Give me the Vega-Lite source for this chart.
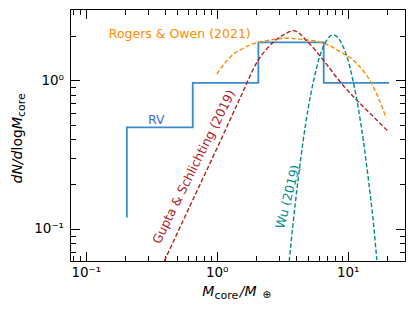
{
  "$schema": "https://vega.github.io/schema/vega-lite/v6.json",
  "width": 335,
  "height": 252,
  "autosize": {"type": "none"},
  "padding": {"left": 70, "top": 9, "right": 10, "bottom": 50},
  "background": "white",
  "config": {
    "font": "DejaVu Sans",
    "view": {"stroke": "black", "strokeWidth": 1},
    "axis": {
      "grid": false,
      "domain": false,
      "tickColor": "black",
      "tickWidth": 1,
      "labelColor": "black",
      "titleColor": "black",
      "labelFont": "DejaVu Sans",
      "titleFont": "DejaVu Sans",
      "titleFontWeight": "normal",
      "titleFontSize": 14,
      "labelFontSize": 13.5
    }
  },
  "resolve": {"axis": {"x": "independent", "y": "independent"}},
  "layer": [
    {
      "data": {"values": [
        {"mass": 0.206, "dn": 0.119},
        {"mass": 0.656, "dn": 0.482},
        {"mass": 2.08, "dn": 0.96},
        {"mass": 6.56, "dn": 1.80},
        {"mass": 20.7, "dn": 0.96}
      ]},
      "mark": {"type": "line", "interpolate": "step-before", "color": "#3c8cc8", "strokeWidth": 1.8, "clip": true},
      "encoding": {
        "x": {"field": "mass", "type": "quantitative",
          "scale": {"type": "log", "domain": [0.0758, 27.4], "nice": false},
          "axis": {"orient": "bottom", "values": [0.1, 1, 10], "tickSize": -9.5, "labelPadding": 13.5,
            "labelExpr": "datum.value < 0.5 ? '10⁻¹' : datum.value < 5 ? '10⁰' : '10¹'",
            "title": "M", "titleFontStyle": "italic", "titleX": 131.7, "titleY": 34, "titleAlign": "left", "titleBaseline": "alphabetic", "titleAngle": 0}},
        "y": {"field": "dn", "type": "quantitative",
          "scale": {"type": "log", "domain": [0.0606, 3.02], "nice": false},
          "axis": {"orient": "left", "values": [0.1, 1], "tickSize": -9.5, "labelPadding": 16,
            "labelExpr": "datum.value < 0.5 ? '10⁻¹' : '10⁰'",
            "title": "dN/d", "titleFontStyle": "italic", "titleX": -48.3, "titleY": 174, "titleAngle": 270, "titleAlign": "left", "titleBaseline": "alphabetic"}}
      }
    },
    {
      "data": {"values": [
        {"mass": 1.0, "dn": 1.10},
        {"mass": 1.15, "dn": 1.30},
        {"mass": 1.34, "dn": 1.50},
        {"mass": 1.51, "dn": 1.60},
        {"mass": 1.80, "dn": 1.73},
        {"mass": 2.02, "dn": 1.79},
        {"mass": 2.6, "dn": 1.87},
        {"mass": 3.3, "dn": 1.92},
        {"mass": 4.86, "dn": 1.87},
        {"mass": 6.5, "dn": 1.78},
        {"mass": 8.73, "dn": 1.56},
        {"mass": 11.7, "dn": 1.30},
        {"mass": 15.7, "dn": 0.905},
        {"mass": 19.7, "dn": 0.555}
      ]},
      "mark": {"type": "line", "interpolate": "monotone", "color": "#ff8c00", "strokeWidth": 1.4, "strokeDash": [4.5, 2.2], "clip": true},
      "encoding": {
        "x": {"field": "mass", "type": "quantitative",
          "scale": {"type": "log", "domain": [0.0758, 27.4], "nice": false},
          "axis": {"orient": "bottom", "values": [0.08, 0.09, 0.2, 0.3, 0.4, 0.5, 0.6, 0.7, 0.8, 0.9, 2, 3, 4, 5, 6, 7, 8, 9, 20], "tickSize": -5.5, "labels": false,
            "title": "core", "titleFontSize": 11, "titleX": 144, "titleY": 37, "titleAlign": "left", "titleBaseline": "alphabetic", "titleAngle": 0}},
        "y": {"field": "dn", "type": "quantitative",
          "scale": {"type": "log", "domain": [0.0606, 3.02], "nice": false},
          "axis": {"orient": "left", "values": [0.07, 0.08, 0.09, 0.2, 0.3, 0.4, 0.5, 0.6, 0.7, 0.8, 0.9, 2, 3], "tickSize": -5.5, "labels": false,
            "title": "log", "titleX": -48.3, "titleY": 141, "titleAngle": 270, "titleAlign": "left", "titleBaseline": "alphabetic"}}
      }
    },
    {
      "data": {"values": [
        {"mass": 0.398, "dn": 0.0606},
        {"mass": 0.631, "dn": 0.145},
        {"mass": 1.0, "dn": 0.345},
        {"mass": 1.51, "dn": 0.76},
        {"mass": 2.08, "dn": 1.37},
        {"mass": 2.4, "dn": 1.62},
        {"mass": 2.79, "dn": 1.85},
        {"mass": 3.23, "dn": 2.02},
        {"mass": 3.84, "dn": 2.16},
        {"mass": 5.0, "dn": 1.80},
        {"mass": 6.5, "dn": 1.37},
        {"mass": 8.73, "dn": 0.98},
        {"mass": 11.7, "dn": 0.736},
        {"mass": 15.7, "dn": 0.569},
        {"mass": 20.2, "dn": 0.455}
      ]},
      "mark": {"type": "line", "interpolate": "monotone", "color": "#b22222", "strokeWidth": 1.4, "strokeDash": [4.5, 2.2], "clip": true},
      "encoding": {
        "x": {"field": "mass", "type": "quantitative",
          "scale": {"type": "log", "domain": [0.0758, 27.4], "nice": false},
          "axis": {"orient": "top", "values": [0.1, 1, 10], "tickSize": -9.5, "labels": false,
            "title": "/M", "titleFontStyle": "italic", "titleX": 169.3, "titleY": 286, "titleAlign": "left", "titleBaseline": "alphabetic", "titleAngle": 0}},
        "y": {"field": "dn", "type": "quantitative",
          "scale": {"type": "log", "domain": [0.0606, 3.02], "nice": false},
          "axis": {"orient": "right", "values": [0.1, 1], "tickSize": -9.5, "labels": false,
            "title": "M", "titleFontStyle": "italic", "titleX": -383.3, "titleY": 119.6, "titleAngle": 270, "titleAlign": "left", "titleBaseline": "alphabetic"}}
      }
    },
    {
      "data": {"values": [
        {"mass": 3.58, "dn": 0.0604},
        {"mass": 3.80, "dn": 0.102},
        {"mass": 4.17, "dn": 0.209},
        {"mass": 4.57, "dn": 0.390},
        {"mass": 5.01, "dn": 0.658},
        {"mass": 5.50, "dn": 1.0},
        {"mass": 6.03, "dn": 1.39},
        {"mass": 6.61, "dn": 1.73},
        {"mass": 7.24, "dn": 1.96},
        {"mass": 7.76, "dn": 2.02},
        {"mass": 8.32, "dn": 1.96},
        {"mass": 9.12, "dn": 1.73},
        {"mass": 10.0, "dn": 1.39},
        {"mass": 10.96, "dn": 1.0},
        {"mass": 12.02, "dn": 0.658},
        {"mass": 13.18, "dn": 0.390},
        {"mass": 14.45, "dn": 0.209},
        {"mass": 15.85, "dn": 0.102},
        {"mass": 16.7, "dn": 0.0615}
      ]},
      "mark": {"type": "line", "interpolate": "monotone", "color": "#008b8b", "strokeWidth": 1.4, "strokeDash": [4.5, 2.2], "clip": true},
      "encoding": {
        "x": {"field": "mass", "type": "quantitative",
          "scale": {"type": "log", "domain": [0.0758, 27.4], "nice": false},
          "axis": {"orient": "top", "values": [0.08, 0.09, 0.2, 0.3, 0.4, 0.5, 0.6, 0.7, 0.8, 0.9, 2, 3, 4, 5, 6, 7, 8, 9, 20], "tickSize": -5.5, "labels": false,
            "title": "⊕", "titleFontSize": 10.5, "titleX": 192, "titleY": 288, "titleAlign": "left", "titleBaseline": "alphabetic", "titleAngle": 0}},
        "y": {"field": "dn", "type": "quantitative",
          "scale": {"type": "log", "domain": [0.0606, 3.02], "nice": false},
          "axis": {"orient": "right", "values": [0.07, 0.08, 0.09, 0.2, 0.3, 0.4, 0.5, 0.6, 0.7, 0.8, 0.9, 2, 3], "tickSize": -5.5, "labels": false,
            "title": "core", "titleFontSize": 11, "titleX": -380.5, "titleY": 107.5, "titleAngle": 270, "titleAlign": "left", "titleBaseline": "alphabetic"}}
      }
    },
    {
      "data": {"values": [{"mass": 0.522, "dn": 2.036, "label": "Rogers & Owen (2021)"}]},
      "mark": {"type": "text", "color": "#ff8c00", "fontSize": 12.5, "align": "center", "baseline": "middle"},
      "encoding": {
        "x": {"field": "mass", "type": "quantitative", "scale": {"type": "log", "domain": [0.0758, 27.4], "nice": false}, "axis": null},
        "y": {"field": "dn", "type": "quantitative", "scale": {"type": "log", "domain": [0.0606, 3.02], "nice": false}, "axis": null},
        "text": {"field": "label"}
      }
    },
    {
      "data": {"values": [{"mass": 0.346, "dn": 0.540, "label": "RV"}]},
      "mark": {"type": "text", "color": "#4169e1", "fontSize": 12.5, "align": "center", "baseline": "middle"},
      "encoding": {
        "x": {"field": "mass", "type": "quantitative", "scale": {"type": "log", "domain": [0.0758, 27.4], "nice": false}, "axis": null},
        "y": {"field": "dn", "type": "quantitative", "scale": {"type": "log", "domain": [0.0606, 3.02], "nice": false}, "axis": null},
        "text": {"field": "label"}
      }
    },
    {
      "data": {"values": [{"mass": 0.671, "dn": 0.2606, "label": "Gupta & Schlichting (2019)"}]},
      "mark": {"type": "text", "color": "#b22222", "fontSize": 12.5, "align": "center", "baseline": "middle", "angle": -63.5},
      "encoding": {
        "x": {"field": "mass", "type": "quantitative", "scale": {"type": "log", "domain": [0.0758, 27.4], "nice": false}, "axis": null},
        "y": {"field": "dn", "type": "quantitative", "scale": {"type": "log", "domain": [0.0606, 3.02], "nice": false}, "axis": null},
        "text": {"field": "label"}
      }
    },
    {
      "data": {"values": [{"mass": 3.50, "dn": 0.164, "label": "Wu (2019)"}]},
      "mark": {"type": "text", "color": "#008b8b", "fontSize": 12.5, "align": "center", "baseline": "middle", "angle": -75.5},
      "encoding": {
        "x": {"field": "mass", "type": "quantitative", "scale": {"type": "log", "domain": [0.0758, 27.4], "nice": false}, "axis": null},
        "y": {"field": "dn", "type": "quantitative", "scale": {"type": "log", "domain": [0.0606, 3.02], "nice": false}, "axis": null},
        "text": {"field": "label"}
      }
    }
  ]
}
